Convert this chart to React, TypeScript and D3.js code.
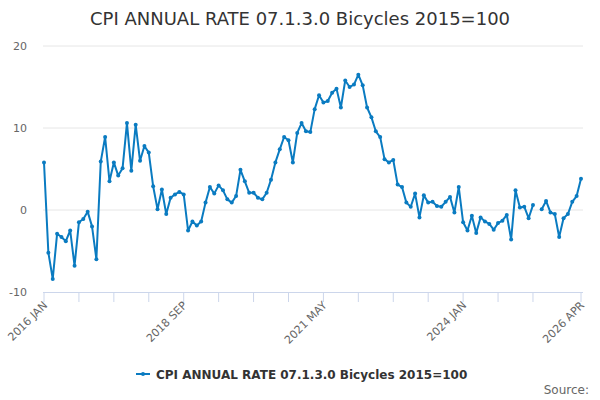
import React from 'react';
import * as d3 from 'd3';

const title = 'CPI ANNUAL RATE 07.1.3.0 Bicycles 2015=100';
const seriesName = 'CPI ANNUAL RATE 07.1.3.0 Bicycles 2015=100';

// monthly values, 2016 JAN .. 2026 APR (null = missing month)
const values: (number | null)[] = [
  5.8, -5.2, -8.4, -2.9, -3.3, -3.8, -2.5, -6.8, -1.5, -1.1, -0.2, -2.0,
  -6.0, 5.9, 8.9, 3.5, 5.8, 4.2, 5.1, 10.6, 4.8, 10.4, 6.0, 7.8,
  7.0, 2.9, 0.1, 2.5, -0.5, 1.5, 1.9, 2.2, 1.9, -2.5, -1.4, -1.9,
  -1.4, 0.9, 2.8, 2.0, 3.0, 2.4, 1.3, 0.9, 1.7, 4.9, 3.5, 2.1,
  2.1, 1.5, 1.3, 2.1, 3.7, 5.8, 7.4, 8.9, 8.5, 5.8, 9.4, 10.6,
  9.6, 9.5, 12.3, 14.0, 13.1, 13.3, 14.3, 14.8, 12.5, 15.8, 15.0, 15.3,
  16.5, 15.2, 12.5, 11.3, 9.6, 8.9, 6.2, 5.8, 6.1, 3.1, 2.8, 0.9,
  0.4, 2.0, -0.9, 1.8, 0.9, 1.0, 0.5, 0.4, 1.0, 1.6, -0.3, 2.8,
  -1.5, -2.5, -0.7, -2.8, -0.9, -1.4, -1.7, -2.4, -1.6, -1.3, -0.6, -3.6,
  2.4, 0.3, 0.4, -1.0, 0.6, null, 0.1, 1.1, -0.3, -0.5, -3.3, -1.0,
  -0.5, 1.0, 1.7, 3.8,
];

const yTicks = [-10, 0, 10, 20];
const xTickIdx = [0, 8, 16, 24, 32, 40, 48, 56, 64, 72, 80, 88, 96, 104, 112, 123];
const xLabelIdx = [0, 32, 64, 96, 123];
const xLabels = ['2016 JAN', '2018 SEP', '2021 MAY', '2024 JAN', '2026 APR'];

const W = 600;
const H = 400;
const color = '#0a7bc1';
const font = '"DejaVu Sans", sans-serif';

export default function App() {
  const x = d3.scaleLinear().domain([0, values.length - 1]).range([44, 581]);
  const y = d3.scaleLinear().domain([-10, 20]).range([292, 46]);

  const line = d3.line<number | null>()
    .defined(d => d != null)
    .x((_, i) => x(i))
    .y(d => y(d as number));

  return (
    <>
      <style>{`body{margin:0}`}</style>
      <svg width={W} height={H} style={{ display: 'block', fontFamily: font }}>
        <rect width={W} height={H} fill="#fff" />
        <text x={W / 2} y={25} textAnchor="middle" fontSize={18} fill="#333">{title}</text>

        {/* grid + y labels */}
        {yTicks.map(t => (
          <g key={t}>
            {t !== -10 && <line x1={43} x2={583} y1={y(t)} y2={y(t)} stroke="#e6e6e6" />}
            <text x={27} y={y(t) + 4} textAnchor="end" fontSize={11} fill="#666">{t}</text>
          </g>
        ))}

        {/* x axis */}
        <line x1={43} x2={583} y1={y(-10) + 0.5} y2={y(-10) + 0.5} stroke="#ccd6eb" />
        {xTickIdx.map(i => (
          <line key={i} x1={x(i)} x2={x(i)} y1={y(-10)} y2={y(-10) + 10} stroke="#ccd6eb" />
        ))}
        {xLabelIdx.map((i, k) => (
          <text key={i} transform={`translate(${x(i) + 4},${y(-10) + 14}) rotate(-45)`}
            textAnchor="end" fontSize={11} fill="#666">{xLabels[k]}</text>
        ))}

        {/* series */}
        <path d={line(values) || ''} fill="none" stroke={color} strokeWidth={2} strokeLinejoin="round" />
        {values.map((v, i) => v == null ? null : (
          <circle key={i} cx={x(i)} cy={y(v)} r={2} fill={color} />
        ))}

        {/* legend */}
        <line x1={136} x2={150} y1={374} y2={374} stroke={color} strokeWidth={2} />
        <circle cx={143} cy={374} r={2} fill={color} />
        <text x={156} y={378.5} fontSize={12} fontWeight="bold" fill="#333">{seriesName}</text>

        <text x={589} y={394} textAnchor="end" fontSize={12} fill="#666">Source:</text>
      </svg>
    </>
  );
}
